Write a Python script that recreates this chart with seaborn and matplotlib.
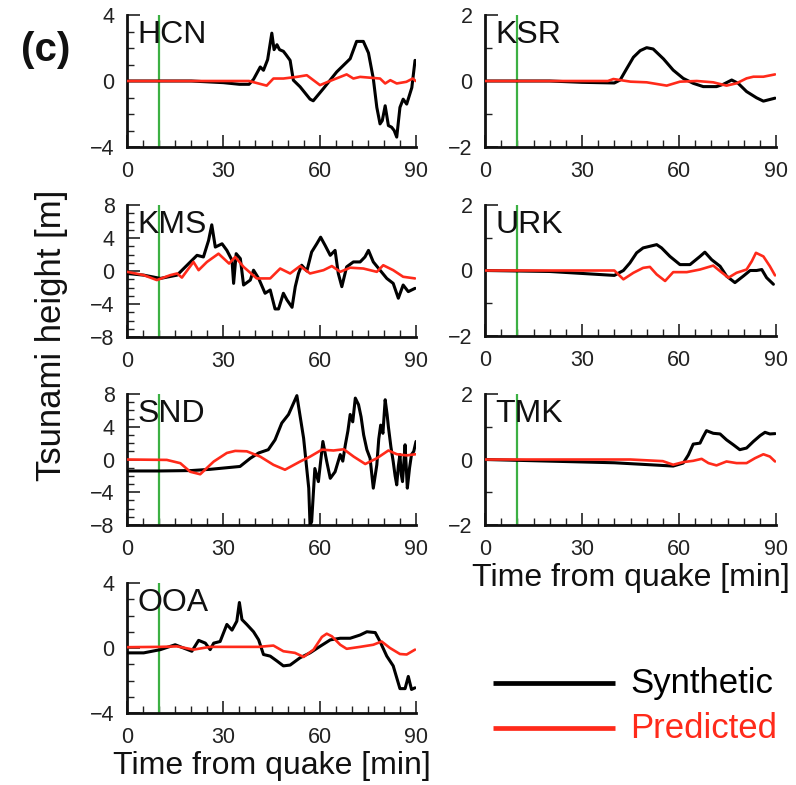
import numpy as np
import pandas as pd
import seaborn as sns
import matplotlib
matplotlib.use("Agg")
import matplotlib.pyplot as plt
from matplotlib.ticker import MultipleLocator

# ---------------- data ----------------
stations = ["HCN", "KSR", "KMS", "URK", "SND", "TMK", "OOA"]
ylims = {"HCN": 4, "KSR": 2, "KMS": 8, "URK": 2, "SND": 8, "TMK": 2, "OOA": 4}
yticks = {"HCN": [-4, 0, 4], "KSR": [-2, 0, 2], "KMS": [-8, -4, 0, 4, 8],
          "URK": [-2, 0, 2], "SND": [-8, -4, 0, 4, 8], "TMK": [-2, 0, 2], "OOA": [-4, 0, 4]}
xticks = [0, 30, 60, 90]
quake_marker_min = 10

hcn_syn_t = [0, 10, 20, 30, 35, 38, 39.4, 41.5, 42.5, 43.8, 45.1, 45.8, 46.7, 47.5, 48.7, 49.5, 50.8, 51.8, 53.9,
             57, 58, 61.2, 65.3, 69.5, 71.5, 73.6, 75.2, 76.7, 77.8, 78.8, 79.5, 80.4, 81.4, 82.4, 83.2, 84, 85, 86,
             87.1, 88.7, 89.7]
hcn_syn_v = [0, 0, 0, -0.1, -0.2, -0.2, 0.1, 0.85, 0.65, 1.3, 2.9, 1.9, 2.2, 1.9, 1.8, 1.6, 1.25, 0.05, -0.35,
             -1.1, -1.2, -0.45, 0.55, 1.35, 2.4, 2.4, 1.7, 0.15, -1.6, -2.6, -2.4, -1.5, -2.7, -2.8, -3.0, -3.4, -1.6,
             -1.1, -1.4, -0.4, 1.25]
hcn_pre_t = [0, 20, 38, 43.5, 45.6, 48.7, 52.9, 56, 60.1, 63.2, 68.4, 70.5, 72.6, 75.7, 78.8, 80.4, 82, 84, 87, 89,
             89.9]
hcn_pre_v = [0, 0, 0, -0.28, 0.15, 0.15, 0.25, 0.35, -0.25, 0, 0.4, 0.15, 0.25, 0.2, 0.15, -0.15, 0.05, -0.15,
             -0.05, 0.15, 0]

ksr_syn_t = [0, 20, 30, 40, 41.8, 43.8, 45.9, 48, 50, 52, 55.2, 58.2, 61.3, 64.4, 67.5, 71.6, 73.7, 76.3, 78.3,
             80.9, 84, 86.1, 88.1, 89.7]
ksr_syn_v = [0, 0, -0.04, -0.06, 0.03, 0.37, 0.72, 0.92, 1.01, 0.97, 0.67, 0.33, 0.08, -0.07, -0.17, -0.17, -0.1,
             0.03, -0.07, -0.32, -0.51, -0.61, -0.56, -0.52]
ksr_pre_t = [0, 20, 38, 39.7, 45, 50, 56.2, 60.3, 65.5, 70.6, 74.7, 77.8, 80.9, 83, 86.1, 89.7]
ksr_pre_v = [0, 0, 0, 0.06, -0.02, -0.04, -0.14, -0.02, 0, -0.04, -0.14, -0.07, 0.08, 0.13, 0.13, 0.2]

kms_syn_t = [0, 5.2, 10.4, 15.6, 18.7, 21.8, 23.8, 25.4, 26.4, 27.5, 29.6, 31.1, 32.7, 33.2, 34, 35.3, 36.3, 38.4,
             39.4, 41, 43, 44.6, 46.1, 47.2, 48.7, 49.8, 51.4, 52.4, 53.4, 54.4, 56, 57.5, 59.1, 60.3, 61.7, 63.3,
             64.8, 65.8, 66.9, 68.4, 70.5, 72.6, 74.1, 75.2, 76.7, 78.8, 80.9, 82.9, 84.5, 86, 87.6, 89.7]
kms_syn_v = [-0.3, -0.5, -0.9, -0.5, 0.7, 1.9, 1.7, 3.7, 5.6, 2.9, 3.3, 2.5, 1.3, -1.5, 2.1, 1.5, -1.7, -1.1,
             0.1, -0.9, -2.7, -2.3, -4.6, -4.6, -2.7, -3.5, -4.4, -1.9, -0.3, 0.7, 0, 2.3, 3.3, 4.1, 3.1, 1.9,
             2.5, -0.3, -1.9, 0.5, 1.1, 1.1, 1.7, 2.5, 1.1, 0.1, -0.9, -1.5, -3.3, -1.7, -2.5, -2.1]
kms_pre_t = [0, 5.2, 9.3, 13.5, 15.6, 17.1, 20.7, 22.3, 24.9, 28.5, 31.8, 33.7, 36.3, 40.4, 44.6, 47.7, 50.8,
             53.9, 57, 61.2, 63.8, 66.4, 69.5, 73.6, 77.8, 79.8, 82.9, 86, 89.7]
kms_pre_v = [-0.1, -0.5, -1.1, -0.5, -0.3, -0.8, 1.1, 0.1, 1.1, 2.1, 0.9, 1.7, 0.5, -0.9, -0.9, 0.3, -0.3,
             0.6, -0.3, 0.1, 0.6, -0.1, 0.4, 0.3, -0.1, 0.7, 0.1, -0.7, -0.9]

urk_syn_t = [0, 20, 40, 42.8, 44.8, 46.9, 48.9, 51, 53.1, 54.6, 57.2, 60.3, 63.4, 66.5, 68, 70.1, 72.7, 74.7,
             77.3, 79.9, 82, 84, 85.6, 87.1, 89.2]
urk_syn_v = [0, -0.03, -0.15, 0, 0.23, 0.54, 0.69, 0.74, 0.79, 0.69, 0.43, 0.18, 0.18, 0.43, 0.56, 0.33, 0.13,
             -0.17, -0.37, -0.17, 0, 0, 0.03, -0.22, -0.42]
urk_pre_t = [0, 20, 40, 42.8, 45.9, 48.9, 51, 53.1, 55.7, 58.2, 62.4, 66.5, 70.6, 72.7, 75.3, 77.8, 80.9, 82.5,
             83.8, 86.1, 88.1, 89.7]
urk_pre_v = [0, 0, 0, -0.27, -0.07, 0.08, 0.11, -0.12, -0.32, -0.05, -0.05, 0.03, 0.15, -0.02, -0.22, -0.07,
             0.03, 0.28, 0.54, 0.43, 0.13, -0.15]

snd_syn_t = [0, 10, 20, 25.9, 35.2, 38.4, 41, 44, 46.1, 48.2, 50.3, 52.9, 55, 56.6, 57, 57.5, 58.5, 59.6, 61,
             62.2, 63.3, 64.8, 66.4, 67.2, 68, 68.8, 69.5, 70.3, 71.1, 72.1, 72.9, 73.7, 74.7, 75.7, 76.7, 77.8,
             78.4, 79, 79.7, 80.4, 81, 81.4, 82.2, 82.9, 83.5, 84, 84.5, 85, 85.4, 85.8, 86.2, 86.6, 87, 87.3,
             88, 88.6, 89.3, 90]
snd_syn_v = [-1.4, -1.4, -1.35, -1.2, -0.85, 0.15, 0.8, 1.2, 2.4, 4.45, 5.5, 7.8, 2.6, -3.5, -8, -7.6, -1.1,
             -2.7, 2.2, -0.25, -2.3, -1.5, 0.6, -0.2, 1.8, 3.5, 5.5, 4.6, 7.5, 6.7, 5.2, 3.0, 1.2, 0.15, -3.5,
             -0.65, 2.5, 4.2, 3.2, 7.3, 5.5, 4.0, 1.5, -0.25, -2.0, -3.1, -0.8, 0.6, -1.8, -2.7, -0.5, 1.8, -1.2,
             -3.5, -1.0, 0.6, 1.0, 2.2]
snd_pre_t = [0, 12.4, 16.6, 19.7, 22.8, 27, 31.1, 33.7, 37.3, 41.5, 45.6, 49.2, 53.9, 57, 60.7, 64.3, 67.5,
             70.6, 74.2, 77.8, 81.4, 84, 87.1, 90]
snd_pre_v = [0, -0.05, -0.45, -1.5, -1.8, -0.25, 0.8, 1.05, 1.0, 0.35, -0.65, -1.25, -0.25, 0.35, 1.2, 1.1,
             1.25, 0.35, -0.55, 0.15, 1.1, 0.65, 0.5, 0.65]

tmk_syn_t = [0, 20, 40, 58.2, 61.3, 62.9, 64.4, 66.5, 67.5, 68.5, 70.6, 72.7, 74.7, 76.8, 78.8, 80.9, 83, 85.1,
             86.6, 88.1, 89.7]
tmk_syn_v = [0, -0.05, -0.1, -0.2, -0.11, 0.14, 0.47, 0.5, 0.7, 0.88, 0.8, 0.78, 0.6, 0.45, 0.3, 0.35, 0.55,
             0.73, 0.83, 0.78, 0.79]
tmk_pre_t = [0, 20, 45, 55, 58.2, 61.3, 64.4, 67, 69.1, 71.6, 74.7, 77.8, 80.9, 83.5, 86.1, 88.1, 89.7]
tmk_pre_v = [0, 0, 0, -0.05, -0.16, -0.08, -0.04, 0.02, -0.11, -0.18, -0.06, -0.11, -0.11, 0.04, 0.16, 0.09,
             -0.06]

ooa_syn_t = [0, 5.2, 10.4, 15, 20.2, 22.3, 24.4, 25.9, 27, 29, 31.1, 32.7, 34.2, 35, 35.8, 37.3, 39.4, 41,
             42.5, 44.6, 46.7, 48.7, 50.8, 53.9, 57, 60.1, 63.3, 66.4, 69.5, 72.6, 74.7, 77.3, 78.8, 80.9, 82.9,
             85, 86.6, 87.6, 88.6, 89.7]
ooa_syn_v = [-0.3, -0.3, -0.1, 0.2, -0.2, 0.47, 0.3, -0.1, 0.3, 0.4, 1.45, 1.1, 1.65, 2.8, 1.75, 1.45, 1.0, 0.5,
             -0.4, -0.5, -0.8, -1.1, -1.05, -0.6, -0.3, 0.1, 0.5, 0.6, 0.6, 0.8, 1.0, 0.95, 0.4, -0.5, -1.1,
             -2.5, -2.5, -1.75, -2.55, -2.45]
ooa_pre_t = [0, 10.4, 15.6, 20.7, 25.9, 31, 36, 41, 45.6, 48.7, 52.3, 55, 58.1, 60.7, 62.2, 63.8, 66.4, 68.4,
             72.6, 76.7, 79.3, 81.9, 85, 87.1, 89.7]
ooa_pre_v = [0.05, 0.07, 0.1, -0.1, 0.07, 0.07, 0.07, 0.07, 0.15, -0.2, -0.3, -0.55, -0.1, 0.68, 0.88, 0.72,
             0.2, -0.05, 0.07, 0.2, 0.4, 0.0, -0.37, -0.4, -0.1]

series = {
    "HCN": (hcn_syn_t, hcn_syn_v, hcn_pre_t, hcn_pre_v),
    "KSR": (ksr_syn_t, ksr_syn_v, ksr_pre_t, ksr_pre_v),
    "KMS": (kms_syn_t, kms_syn_v, kms_pre_t, kms_pre_v),
    "URK": (urk_syn_t, urk_syn_v, urk_pre_t, urk_pre_v),
    "SND": (snd_syn_t, snd_syn_v, snd_pre_t, snd_pre_v),
    "TMK": (tmk_syn_t, tmk_syn_v, tmk_pre_t, tmk_pre_v),
    "OOA": (ooa_syn_t, ooa_syn_v, ooa_pre_t, ooa_pre_v),
}
legend_labels = ["Synthetic", "Predicted"]

# ---------------- styling ----------------
sns.set_theme(style="ticks")
plt.rcParams["font.family"] = ["Liberation Sans", "DejaVu Sans"]
plt.rcParams["axes.unicode_minus"] = True

W, H = 796, 785
fig = plt.figure(figsize=(W / 100, H / 100), dpi=100)

# axes rectangles in pixel coordinates (left, top, right, bottom)
boxes = {
    "HCN": (127, 15, 416, 147), "KSR": (485, 15, 776, 147),
    "KMS": (127, 205, 416, 337), "URK": (485, 205, 776, 336),
    "SND": (127, 394, 416, 525), "TMK": (485, 394, 776, 525),
    "OOA": (127, 583, 416, 713),
}

BLACK = "#000000"
RED = "#ff2a1a"
GREEN = "#3cb043"
TXT = "#111111"

for st in stations:
    l, t, r, b = boxes[st]
    ax = fig.add_axes([l / W, 1 - b / H, (r - l) / W, (b - t) / H])
    ts, vs, tp, vp = series[st]
    df_s = pd.DataFrame({"t": ts, "v": vs})
    df_p = pd.DataFrame({"t": tp, "v": vp})
    ax.axvline(quake_marker_min, color=GREEN, lw=1.6, zorder=1)
    sns.lineplot(data=df_s, x="t", y="v", ax=ax, color=BLACK, lw=2.2, zorder=3, sort=False)
    sns.lineplot(data=df_p, x="t", y="v", ax=ax, color=RED, lw=1.9, zorder=4, sort=False)
    lim = ylims[st]
    ax.set_xlim(0, 90)
    ax.set_ylim(-lim, lim)
    ax.set_xticks(xticks)
    ax.xaxis.set_minor_locator(MultipleLocator(5))
    ax.set_yticks(yticks[st])
    ax.yaxis.set_minor_locator(MultipleLocator(1))
    ax.tick_params(axis="both", which="major", direction="in", length=9, width=1.2,
                   labelsize=15.5, colors="#222222")
    ax.tick_params(axis="x", which="major", pad=10)
    ax.tick_params(axis="y", which="major", pad=9)
    ax.tick_params(axis="both", which="minor", direction="in", length=5, width=1.0, colors="#222222")
    for sp in ["top", "right"]:
        ax.spines[sp].set_visible(False)
    for sp in ["left", "bottom"]:
        ax.spines[sp].set_linewidth(2.0)
        ax.spines[sp].set_color(TXT)
    ax.set_xlabel("")
    ax.set_ylabel("")
    ax.text(0.035, 0.96, st, transform=ax.transAxes, ha="left", va="top",
            fontsize=23, color=TXT, zorder=5)
    if st in ("OOA", "TMK"):
        ax.set_xlabel("Time from quake [min]", fontsize=23, labelpad=2, color=TXT)

fig.text(52 / W, 1 - 335 / H, "Tsunami height [m]", rotation=90, ha="center", va="center",
         fontsize=25, color=TXT)
fig.text(46 / W, 1 - 50 / H, "(c)", ha="center", va="center", fontsize=29, fontweight="bold",
         color=TXT)

# legend
lax = fig.add_axes([480 / W, 1 - 760 / H, 316 / W, 120 / H])
lax.set_axis_off()
lax.set_xlim(0, 316)
lax.set_ylim(120, 0)
legend_colors = [BLACK, RED]
for i, (lab, col) in enumerate(zip(legend_labels, legend_colors)):
    y = 43 + i * 45
    lax.plot([13, 135], [y, y], color=col, lw=3.4, solid_capstyle="butt")
    lax.text(150, y, lab, color=col, fontsize=25, va="center", ha="left")

fig.savefig("out.png", dpi=100)
